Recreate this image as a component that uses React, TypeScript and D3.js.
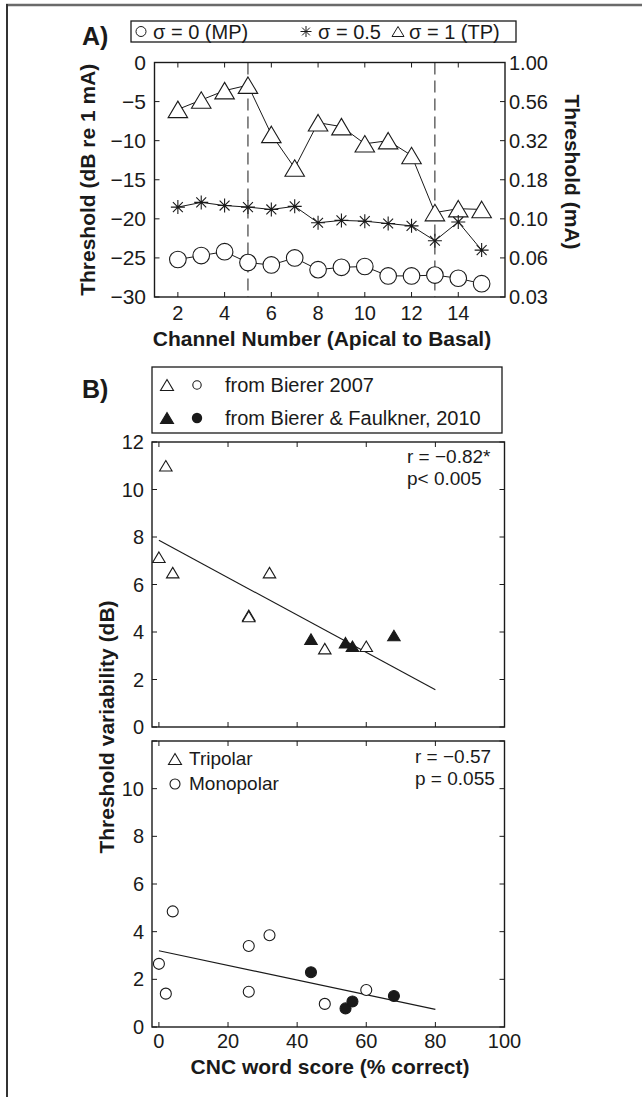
import React, { useEffect, useRef } from "react";
import * as d3 from "d3";

// Panel A: thresholds per channel (dB re 1 mA)
const channels = [2, 3, 4, 5, 6, 7, 8, 9, 10, 11, 12, 13, 14, 15];
const thrMP = [-25.2, -24.7, -24.2, -25.6, -25.9, -25.0, -26.5, -26.2, -26.1, -27.3, -27.3, -27.2, -27.6, -28.3];
const thrHalf = [-18.5, -17.9, -18.3, -18.5, -18.8, -18.4, -20.5, -20.2, -20.3, -20.6, -20.9, -22.8, -20.4, -24.0];
const thrTP = [-6.0, -4.8, -3.6, -2.9, -9.2, -13.5, -7.7, -8.2, -10.4, -10.0, -11.9, -19.2, -18.7, -18.8];
const dashedChannels = [5, 13];
const xTicksA = [2, 4, 6, 8, 10, 12, 14];
const yTicksA = [0, -5, -10, -15, -20, -25, -30];
const yLabelsA = ["0", "\u22125", "\u221210", "\u221215", "\u221220", "\u221225", "\u221230"];
const yLabelsRightA = ["1.00", "0.56", "0.32", "0.18", "0.10", "0.06", "0.03"];

// Panel B: CNC word score vs threshold variability
const cncOpen = [0, 2, 4, 26, 26, 32, 48, 60];
const tpVarOpen = [7.15, 11.0, 6.5, 4.7, 4.65, 6.5, 3.3, 3.4];
const mpVarOpen = [2.65, 1.4, 4.85, 3.4, 1.48, 3.85, 0.97, 1.55];
const cncFilled = [44, 54, 56, 68];
const tpVarFilled = [3.7, 3.55, 3.4, 3.85];
const mpVarFilled = [2.3, 0.78, 1.07, 1.3];
const fitX = [0, 80];
const fitTP = [7.86, 1.57];
const fitMP = [3.2, 0.74];
const xTicksB = [0, 20, 40, 60, 80, 100];
const yTicksB1 = [0, 2, 4, 6, 8, 10, 12];
const yTicksB2 = [0, 2, 4, 6, 8, 10, 12];
const yLabelsB2 = ["0", "2", "4", "6", "8", "10", ""];

const FONT = "'Liberation Sans', Arial, sans-serif";
const INK = "#1a1a1a";

const triPath = (cx: number, cy: number, w: number, h: number) =>
  `M${cx},${cy - h / 2}L${cx + w / 2},${cy + h / 2}L${cx - w / 2},${cy + h / 2}Z`;

const starPath = (cx: number, cy: number, s: number) => {
  const d = s * 0.7071;
  return `M${cx - s},${cy}L${cx + s},${cy}M${cx},${cy - s}L${cx},${cy + s}` +
    `M${cx - d},${cy - d}L${cx + d},${cy + d}M${cx - d},${cy + d}L${cx + d},${cy - d}`;
};

const App = () => {
  const svgRef = useRef<SVGSVGElement>(null);

  useEffect(() => {
    const svg = d3.select(svgRef.current);
    svg.selectAll("*").remove();
    svg.style("font-family", FONT);

    const text = (x: number, y: number, s: string, size: number, anchor = "start", bold = false) =>
      svg.append("text").attr("x", x).attr("y", y).attr("font-size", size)
        .attr("text-anchor", anchor).attr("font-weight", bold ? "bold" : "normal")
        .attr("fill", INK).text(s);

    // outer frame (top and left edges only)
    svg.append("line").attr("x1", 6).attr("x2", 642).attr("y1", 5).attr("y2", 5)
      .attr("stroke", "#6a6a6a").attr("stroke-width", 2.5);
    svg.append("line").attr("x1", 7).attr("x2", 7).attr("y1", 4).attr("y2", 1097)
      .attr("stroke", "#333").attr("stroke-width", 2);

    // ---------- Panel A ----------
    const xA = d3.scaleLinear().domain([1, 16]).range([154.5, 505]);
    const yA = d3.scaleLinear().domain([-30, 0]).range([297, 62.5]);
    const [ax0, ax1] = xA.range();
    const [ay1, ay0] = yA.range();

    svg.append("rect").attr("x", ax0).attr("y", ay0).attr("width", ax1 - ax0).attr("height", ay1 - ay0)
      .attr("fill", "none").attr("stroke", INK).attr("stroke-width", 1.4);

    const tl = 5;
    xTicksA.forEach((t) => {
      svg.append("line").attr("x1", xA(t)).attr("x2", xA(t)).attr("y1", ay1).attr("y2", ay1 - tl).attr("stroke", INK);
      svg.append("line").attr("x1", xA(t)).attr("x2", xA(t)).attr("y1", ay0).attr("y2", ay0 + tl).attr("stroke", INK);
      text(xA(t), 320, String(t), 20, "middle");
    });
    yTicksA.forEach((t, i) => {
      svg.append("line").attr("x1", ax0).attr("x2", ax0 + tl).attr("y1", yA(t)).attr("y2", yA(t)).attr("stroke", INK);
      svg.append("line").attr("x1", ax1).attr("x2", ax1 - tl).attr("y1", yA(t)).attr("y2", yA(t)).attr("stroke", INK);
      text(146, yA(t) + 7, yLabelsA[i], 21, "end");
      text(509, yA(t) + 7, yLabelsRightA[i], 20, "start");
    });

    dashedChannels.forEach((c) => {
      svg.append("line").attr("x1", xA(c)).attr("x2", xA(c)).attr("y1", ay0).attr("y2", ay1)
        .attr("stroke", INK).attr("stroke-width", 1).attr("stroke-dasharray", "12,6");
    });

    const lineA = (vals: number[]) =>
      d3.line<number>().x((_, i) => xA(channels[i])).y((v) => yA(v))(vals);

    [thrTP, thrHalf, thrMP].forEach((vals) => {
      svg.append("path").attr("d", lineA(vals)).attr("fill", "none").attr("stroke", INK).attr("stroke-width", 1);
    });

    channels.forEach((c, i) => {
      svg.append("path").attr("d", triPath(xA(c), yA(thrTP[i]), 19.5, 16.5))
        .attr("fill", "#fff").attr("stroke", INK).attr("stroke-width", 1.1);
      svg.append("path").attr("d", starPath(xA(c), yA(thrHalf[i]), 7))
        .attr("fill", "none").attr("stroke", INK).attr("stroke-width", 1.1);
      svg.append("circle").attr("cx", xA(c)).attr("cy", yA(thrMP[i])).attr("r", 8.3)
        .attr("fill", "#fff").attr("stroke", INK).attr("stroke-width", 1.1);
    });

    // labels A
    svg.append("text").attr("transform", `translate(87,${(ay0 + ay1) / 2}) rotate(-90)`)
      .attr("text-anchor", "middle").attr("dominant-baseline", "central")
      .attr("font-size", 21).attr("font-weight", "bold").attr("fill", INK).text("Threshold (dB re 1 mA)");
    svg.append("text").attr("transform", `translate(572,172) rotate(90)`)
      .attr("text-anchor", "middle").attr("dominant-baseline", "central")
      .attr("font-size", 21).attr("font-weight", "bold").attr("fill", INK).text("Threshold (mA)");
    text(322, 346, "Channel Number (Apical to Basal)", 21, "middle", true);
    text(82, 45, "A)", 25, "start", true);

    // legend A
    svg.append("rect").attr("x", 131).attr("y", 21).attr("width", 385).attr("height", 21)
      .attr("fill", "#fff").attr("stroke", INK).attr("stroke-width", 1.3);
    svg.append("circle").attr("cx", 141).attr("cy", 31.5).attr("r", 5).attr("fill", "none").attr("stroke", INK);
    text(153, 39, "\u03c3 = 0 (MP)", 20);
    svg.append("path").attr("d", starPath(306, 31.5, 5.5)).attr("fill", "none").attr("stroke", INK);
    text(318, 39, "\u03c3 = 0.5", 20);
    svg.append("path").attr("d", triPath(398, 31.5, 12, 10)).attr("fill", "none").attr("stroke", INK);
    text(409, 39, "\u03c3 = 1 (TP)", 20);

    // ---------- Panel B ----------
    const xB = d3.scaleLinear().domain([-2, 100]).range([152, 504.5]);
    const yB1 = d3.scaleLinear().domain([0, 12]).range([727, 442]);
    const yB2 = d3.scaleLinear().domain([0, 12]).range([1027, 741]);
    const [bx0, bx1] = xB.range();

    const frameB = (y: d3.ScaleLinear<number, number>, ticks: number[], labels: string[]) => {
      const [b, t] = y.range();
      svg.append("rect").attr("x", bx0).attr("y", t).attr("width", bx1 - bx0).attr("height", b - t)
        .attr("fill", "none").attr("stroke", INK).attr("stroke-width", 1.4);
      xTicksB.forEach((v) => {
        svg.append("line").attr("x1", xB(v)).attr("x2", xB(v)).attr("y1", b).attr("y2", b - tl).attr("stroke", INK);
        svg.append("line").attr("x1", xB(v)).attr("x2", xB(v)).attr("y1", t).attr("y2", t + tl).attr("stroke", INK);
      });
      ticks.forEach((v, i) => {
        svg.append("line").attr("x1", bx0).attr("x2", bx0 + tl).attr("y1", y(v)).attr("y2", y(v)).attr("stroke", INK);
        svg.append("line").attr("x1", bx1).attr("x2", bx1 - tl).attr("y1", y(v)).attr("y2", y(v)).attr("stroke", INK);
        if (labels[i]) text(144, y(v) + 7, labels[i], 20, "end");
      });
    };
    frameB(yB1, yTicksB1, yTicksB1.map(String));
    frameB(yB2, yTicksB2, yLabelsB2);
    xTicksB.forEach((v) => text(xB(v), 1048, String(v), 20, "middle"));

    const fit = (y: d3.ScaleLinear<number, number>, vals: number[]) =>
      d3.line<number>().x((_, i) => xB(fitX[i])).y((v) => y(v))(vals);
    svg.append("path").attr("d", fit(yB1, fitTP)).attr("stroke", INK).attr("stroke-width", 1.1).attr("fill", "none");
    svg.append("path").attr("d", fit(yB2, fitMP)).attr("stroke", INK).attr("stroke-width", 1.1).attr("fill", "none");

    cncOpen.forEach((c, i) => {
      svg.append("path").attr("d", triPath(xB(c), yB1(tpVarOpen[i]), 12.5, 10.5))
        .attr("fill", "#fff").attr("stroke", INK).attr("stroke-width", 1.1);
      svg.append("circle").attr("cx", xB(c)).attr("cy", yB2(mpVarOpen[i])).attr("r", 5.5)
        .attr("fill", "#fff").attr("stroke", INK).attr("stroke-width", 1.1);
    });
    cncFilled.forEach((c, i) => {
      svg.append("path").attr("d", triPath(xB(c), yB1(tpVarFilled[i]), 12.5, 10.5))
        .attr("fill", INK).attr("stroke", INK).attr("stroke-width", 1.1);
      svg.append("circle").attr("cx", xB(c)).attr("cy", yB2(mpVarFilled[i])).attr("r", 5.5)
        .attr("fill", INK).attr("stroke", INK).attr("stroke-width", 1.1);
    });

    text(407, 463, "r = \u22120.82*", 19);
    text(407, 485, "p< 0.005", 19);
    text(415, 763, "r = \u22120.57", 19);
    text(415, 785, "p = 0.055", 19);

    svg.append("path").attr("d", triPath(175, 759, 13, 11)).attr("fill", "none").attr("stroke", INK).attr("stroke-width", 1.1);
    text(189, 765, "Tripolar", 19);
    svg.append("circle").attr("cx", 175).attr("cy", 784).attr("r", 5).attr("fill", "none").attr("stroke", INK).attr("stroke-width", 1.1);
    text(189, 790, "Monopolar", 19);

    // legend B
    svg.append("rect").attr("x", 152).attr("y", 367).attr("width", 350).attr("height", 66)
      .attr("fill", "#fff").attr("stroke", INK).attr("stroke-width", 1.3);
    svg.append("path").attr("d", triPath(167, 385, 13, 11)).attr("fill", "none").attr("stroke", INK).attr("stroke-width", 1.1);
    svg.append("circle").attr("cx", 197).attr("cy", 385).attr("r", 4.2).attr("fill", "none").attr("stroke", INK).attr("stroke-width", 1.1);
    text(225, 392, "from Bierer 2007", 20);
    svg.append("path").attr("d", triPath(167, 418, 13, 11)).attr("fill", INK).attr("stroke", INK).attr("stroke-width", 1.1);
    svg.append("circle").attr("cx", 197).attr("cy", 418).attr("r", 5.2).attr("fill", INK);
    text(225, 425, "from Bierer & Faulkner, 2010", 20);
    text(82, 398, "B)", 25, "start", true);

    svg.append("text").attr("transform", `translate(106,727) rotate(-90)`)
      .attr("text-anchor", "middle").attr("dominant-baseline", "central")
      .attr("font-size", 21).attr("font-weight", "bold").attr("fill", INK).text("Threshold variability (dB)");
    text(330, 1074, "CNC word score (% correct)", 21, "middle", true);
  }, []);

  return (
    <svg ref={svgRef} width={642} height={1097}
      style={{ position: "absolute", left: 0, top: 0, background: "#fff" }} />
  );
};

export default App;
